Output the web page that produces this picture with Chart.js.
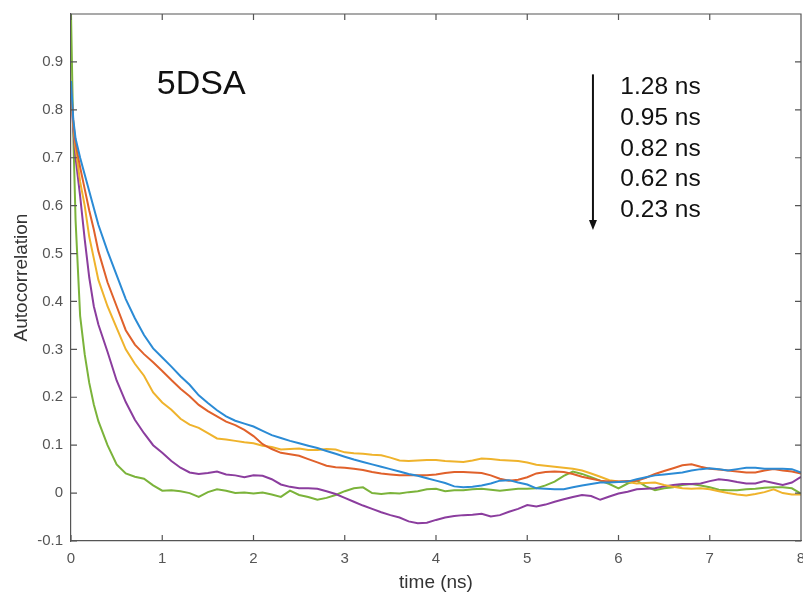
<!DOCTYPE html>
<html>
<head>
<meta charset="utf-8">
<script src="https://cdn.jsdelivr.net/npm/chart.js@4.4.0/dist/chart.umd.min.js"></script>
<style>
  body { margin: 0; background: #fff; }
  #wrap { width: 803px; height: 596px; }
</style>
</head>
<body>
<div id="wrap"><canvas id="acChart" width="803" height="596"></canvas></div>
<script>
// time axis (ns)
const times = [0, 0.025, 0.05, 0.1, 0.15, 0.2, 0.25, 0.3, 0.4, 0.5, 0.6, 0.7, 0.8, 0.9,
  1.0, 1.1, 1.2, 1.3, 1.4, 1.5, 1.6, 1.7, 1.8, 1.9, 2.0, 2.1, 2.2, 2.3, 2.4, 2.5, 2.6, 2.7, 2.8, 2.9,
  3.0, 3.1, 3.2, 3.3, 3.4, 3.5, 3.6, 3.7, 3.8, 3.9, 4.0, 4.1, 4.2, 4.3, 4.4, 4.5, 4.6, 4.7, 4.8, 4.9,
  5.0, 5.1, 5.2, 5.3, 5.4, 5.5, 5.6, 5.7, 5.8, 5.9, 6.0, 6.1, 6.2, 6.3, 6.4, 6.5, 6.6, 6.7, 6.8, 6.9,
  7.0, 7.1, 7.2, 7.3, 7.4, 7.5, 7.6, 7.7, 7.8, 7.9, 8.0];

const seriesNames = ['1.28 ns', '0.95 ns', '0.82 ns', '0.62 ns', '0.23 ns'];
const seriesColors = ['#2b8bd5', '#e0612b', '#efb32c', '#8b3d9e', '#7bb33a'];

const ac128 = [0.86, 0.78, 0.74, 0.70, 0.665, 0.63, 0.595, 0.56, 0.505, 0.455, 0.405, 0.365, 0.33, 0.302,
  0.283, 0.264, 0.244, 0.226, 0.204, 0.188, 0.173, 0.160, 0.151, 0.145, 0.139, 0.130, 0.121, 0.115, 0.109, 0.104, 0.099, 0.094, 0.088, 0.082,
  0.076, 0.070, 0.065, 0.060, 0.055, 0.050, 0.045, 0.040, 0.036, 0.031, 0.026, 0.021, 0.014, 0.012, 0.013, 0.016, 0.020, 0.026, 0.027, 0.022,
  0.018, 0.010, 0.009, 0.008, 0.008, 0.012, 0.016, 0.019, 0.022, 0.022, 0.023, 0.024, 0.029, 0.033, 0.037, 0.039, 0.041, 0.043, 0.047, 0.050,
  0.052, 0.050, 0.047, 0.050, 0.053, 0.053, 0.051, 0.051, 0.051, 0.050, 0.043];

const ac095 = [0.85, 0.775, 0.73, 0.68, 0.635, 0.59, 0.55, 0.505, 0.44, 0.39, 0.34, 0.31, 0.29, 0.273,
  0.255, 0.236, 0.218, 0.202, 0.184, 0.171, 0.160, 0.149, 0.142, 0.132, 0.119, 0.102, 0.092, 0.084, 0.081, 0.078, 0.071, 0.064, 0.057, 0.054,
  0.053, 0.051, 0.048, 0.044, 0.041, 0.039, 0.037, 0.037, 0.037, 0.037, 0.039, 0.042, 0.044, 0.044, 0.043, 0.042, 0.037, 0.030, 0.026, 0.028,
  0.033, 0.041, 0.044, 0.045, 0.044, 0.040, 0.034, 0.030, 0.026, 0.024, 0.024, 0.025, 0.026, 0.032, 0.040, 0.046, 0.052, 0.058, 0.060, 0.055,
  0.051, 0.049, 0.047, 0.045, 0.043, 0.043, 0.047, 0.050, 0.047, 0.045, 0.041];

const ac082 = [0.85, 0.77, 0.72, 0.65, 0.60, 0.535, 0.49, 0.445, 0.39, 0.345, 0.30, 0.27, 0.245, 0.21,
  0.189, 0.174, 0.155, 0.143, 0.136, 0.125, 0.114, 0.112, 0.109, 0.106, 0.104, 0.099, 0.096, 0.091, 0.092, 0.093, 0.090, 0.090, 0.092, 0.091,
  0.085, 0.083, 0.082, 0.080, 0.079, 0.074, 0.068, 0.067, 0.068, 0.069, 0.069, 0.067, 0.066, 0.065, 0.068, 0.072, 0.071, 0.069, 0.068, 0.067,
  0.064, 0.059, 0.057, 0.055, 0.053, 0.051, 0.047, 0.041, 0.034, 0.027, 0.024, 0.023, 0.020, 0.021, 0.022, 0.017, 0.013, 0.010, 0.009, 0.010,
  0.008, 0.004, 0.000, -0.003, -0.005, -0.002, 0.002, 0.008, 0.000, -0.003, -0.003];

const ac062 = [0.84, 0.76, 0.70, 0.62, 0.53, 0.45, 0.39, 0.352, 0.295, 0.235, 0.19, 0.153, 0.125, 0.100,
  0.084, 0.067, 0.053, 0.043, 0.040, 0.042, 0.045, 0.039, 0.037, 0.033, 0.037, 0.036, 0.029, 0.018, 0.013, 0.010, 0.010, 0.009, 0.004, -0.002,
  -0.010, -0.018, -0.026, -0.033, -0.040, -0.046, -0.051, -0.059, -0.063, -0.062, -0.056, -0.051, -0.048, -0.046, -0.045, -0.043, -0.049, -0.046, -0.039, -0.033,
  -0.025, -0.028, -0.024, -0.018, -0.013, -0.008, -0.004, -0.006, -0.014, -0.007, -0.001, 0.003, 0.008, 0.009, 0.010, 0.014, 0.017, 0.019, 0.019, 0.020,
  0.025, 0.029, 0.027, 0.023, 0.020, 0.020, 0.025, 0.021, 0.017, 0.022, 0.034];

const ac023 = [1.0, 0.75, 0.57, 0.37, 0.29, 0.23, 0.185, 0.15, 0.10, 0.06, 0.041, 0.034, 0.030, 0.016,
  0.005, 0.006, 0.004, 0.000, -0.008, 0.002, 0.008, 0.005, 0.000, 0.001, -0.001, 0.001, -0.003, -0.008, 0.005, -0.004, -0.008, -0.014, -0.010, -0.004,
  0.004, 0.010, 0.012, 0.000, -0.002, 0.000, -0.001, 0.002, 0.004, 0.008, 0.009, 0.004, 0.006, 0.006, 0.008, 0.009, 0.007, 0.005, 0.007, 0.009,
  0.009, 0.010, 0.016, 0.024, 0.036, 0.045, 0.040, 0.033, 0.026, 0.019, 0.010, 0.020, 0.026, 0.014, 0.006, 0.010, 0.012, 0.017, 0.019, 0.016,
  0.012, 0.007, 0.006, 0.006, 0.008, 0.009, 0.011, 0.012, 0.012, 0.010, -0.001];

const xTicks = [0, 1, 2, 3, 4, 5, 6, 7, 8];
const yTicks = [-0.1, 0, 0.1, 0.2, 0.3, 0.4, 0.5, 0.6, 0.7, 0.8, 0.9];

const allSeries = [ac128, ac095, ac082, ac062, ac023];

const datasets = allSeries.map(function (vals, i) {
  return {
    label: seriesNames[i],
    data: vals.map(function (v, j) { return { x: times[j], y: v }; }),
    borderColor: seriesColors[i],
    borderWidth: 2,
    pointRadius: 0,
    tension: 0,
    fill: false
  };
});

// matlab style box with ticks pointing inside, plus text annotations
const boxPlugin = {
  id: 'boxPlugin',
  afterDatasetsDraw: function (chart) {
    const ctx = chart.ctx;
    const a = chart.chartArea;
    const xs = chart.scales.x, ys = chart.scales.y;
    ctx.save();
    ctx.strokeStyle = '#555';
    ctx.lineWidth = 1.2;
    ctx.beginPath();
    ctx.moveTo(a.left, a.top); ctx.lineTo(a.right, a.top); ctx.lineTo(a.right, a.bottom);
    xTicks.forEach(function (t) {
      const px = xs.getPixelForValue(t);
      ctx.moveTo(px, a.bottom); ctx.lineTo(px, a.bottom - 6);
      ctx.moveTo(px, a.top); ctx.lineTo(px, a.top + 6);
    });
    yTicks.forEach(function (t) {
      const py = ys.getPixelForValue(t);
      ctx.moveTo(a.left, py); ctx.lineTo(a.left + 6, py);
      ctx.moveTo(a.right, py); ctx.lineTo(a.right - 6, py);
    });
    ctx.stroke();

    // sample label
    ctx.fillStyle = '#111';
    ctx.textAlign = 'left';
    ctx.textBaseline = 'alphabetic';
    ctx.font = '34px "Liberation Sans", Arial, sans-serif';
    ctx.fillText('5DSA', xs.getPixelForValue(0.94), ys.getPixelForValue(0.832));

    // correlation times list
    ctx.font = '24.5px "Liberation Sans", Arial, sans-serif';
    const labelY = [0.832, 0.768, 0.704, 0.641, 0.577];
    seriesNames.forEach(function (s, i) {
      ctx.fillText(s, xs.getPixelForValue(6.02), ys.getPixelForValue(labelY[i]));
    });

    // arrow
    const ax = xs.getPixelForValue(5.72);
    const ay0 = ys.getPixelForValue(0.874), ay1 = ys.getPixelForValue(0.549);
    ctx.strokeStyle = '#111';
    ctx.lineWidth = 2;
    ctx.beginPath();
    ctx.moveTo(ax, ay0); ctx.lineTo(ax, ay1 - 8);
    ctx.stroke();
    ctx.beginPath();
    ctx.moveTo(ax - 4, ay1 - 10); ctx.lineTo(ax + 4, ay1 - 10); ctx.lineTo(ax, ay1);
    ctx.closePath();
    ctx.fillStyle = '#111';
    ctx.fill();
    ctx.restore();
  }
};

const ctx = document.getElementById('acChart').getContext('2d');
new Chart(ctx, {
  type: 'line',
  data: { datasets: datasets },
  options: {
    responsive: false,
    animation: false,
    layout: { padding: { left: 0, right: 2, top: 14, bottom: 0 } },
    plugins: { legend: { display: false }, tooltip: { enabled: false } },
    scales: {
      x: {
        type: 'linear',
        min: 0, max: 8,
        afterFit: function (s) { s.height = 55; s.paddingLeft = 0; s.paddingRight = 0; },
        afterBuildTicks: function (s) { s.ticks = xTicks.map(function (v) { return { value: v }; }); },
        grid: { display: false, drawTicks: false },
        border: { display: true, color: '#555', width: 1.2 },
        ticks: {
          padding: 9,
          color: '#555',
          font: { family: '"Liberation Sans", Arial, sans-serif', size: 15 },
          maxRotation: 0,
          callback: function (v) { return String(v); }
        },
        title: {
          display: true, text: 'time (ns)', color: '#333',
          font: { family: '"Liberation Sans", Arial, sans-serif', size: 19 },
          padding: { top: 0, bottom: 2 }
        }
      },
      y: {
        min: -0.1, max: 1.0,
        afterFit: function (s) { s.width = 71; s.paddingTop = 0; s.paddingBottom = 0; },
        afterBuildTicks: function (s) { s.ticks = yTicks.map(function (v) { return { value: v }; }); },
        grid: { display: false, drawTicks: false },
        border: { display: true, color: '#555', width: 1.2 },
        ticks: {
          padding: 8,
          color: '#555',
          font: { family: '"Liberation Sans", Arial, sans-serif', size: 15 },
          callback: function (v) { return String(Math.round(v * 10) / 10); }
        },
        title: {
          display: true, text: 'Autocorrelation', color: '#333',
          font: { family: '"Liberation Sans", Arial, sans-serif', size: 19 },
          padding: { top: 10, bottom: 0 }
        }
      }
    }
  },
  plugins: [boxPlugin]
});
</script>
</body>
</html>
